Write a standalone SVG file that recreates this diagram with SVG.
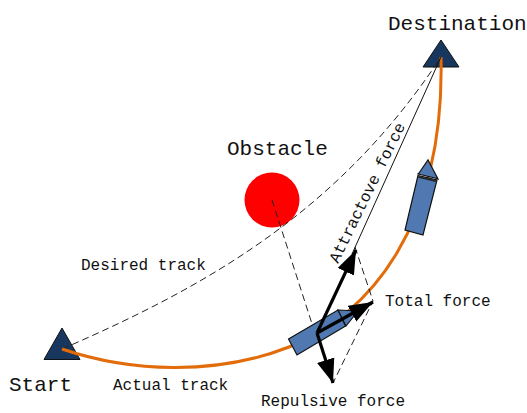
<svg xmlns="http://www.w3.org/2000/svg" width="527" height="413" viewBox="0 0 527 413">
<defs>
<marker id="ah" markerUnits="userSpaceOnUse" markerWidth="26" markerHeight="20" refX="24" refY="9" orient="auto" viewBox="0 0 26 18"><path d="M0 0L24 9L0 18Z" fill="#000"/></marker>
</defs>
<style>
.t{font-family:"Liberation Mono",monospace;fill:#111}
.s{font-size:16px}
.l{font-size:21px}
.tri{fill:#17375e;stroke:#111;stroke-width:1}
.ship{fill:#4f79b0;stroke:#111;stroke-width:1.2}
.d{fill:none;stroke:#222;stroke-width:1;stroke-dasharray:7 4}
.o{fill:none;stroke:#e36c0a;stroke-width:3}
.f{stroke:#000;stroke-width:3.2;fill:none;marker-end:url(#ah)}
</style>
<g id="obstacle"><circle cx="272" cy="200" r="27.5" fill="#ff0000"/><text class="t l" x="227" y="155">Obstacle</text></g>
<g id="start"><path class="tri" d="M62 328L80 359.500L44 359.500Z"/><text class="t l" x="9" y="391">Start</text></g>
<g id="destination"><path class="tri" d="M441 40L459 67L423 67Z"/><text class="t l" x="388" y="30">Destination</text></g>
<g id="connectors">
<path class="d" d="M62 349C210 285 340 210 441 57"/>
<path class="o" d="M62 349C130 372 215 376 289 347C370 315 445 225 441 57"/>
<path d="M441 57L352 254" fill="none" stroke="#111" stroke-width="1"/>
<path class="d" d="M272 200L314 330"/>
<path class="d" d="M355 247L373 301L333 383"/>
</g>
<g id="ship-1"><path class="ship" d="M419 173L428 160L438 179L435 178L418 174Z"/><path class="ship" d="M418 175.500L437 180L423 235L405 230Z"/><path d="M418.500 177L437 181.500" stroke="#222" stroke-width="1.500"/></g>
<g id="ship-2"><path class="ship" d="M288.500 339L338 310L345.500 326L297 355Z"/><path class="ship" d="M338 310L358 311L346 326Z"/></g>
<g id="forces">
<path class="f" d="M317 333L356 250"/>
<path class="f" d="M317 333L373 302"/>
<path class="f" d="M317 333L333 383"/>
</g>
<g id="labels">
<text class="t s" x="81" y="270">Desired track</text>
<text class="t s" x="113" y="390">Actual track</text>
<text class="t s" x="385" y="306">Total force</text>
<text class="t s" x="261" y="406">Repulsive force</text>
<text class="t s" transform="translate(338 264) rotate(-64)">Attractove force</text>
</g>
</svg>
